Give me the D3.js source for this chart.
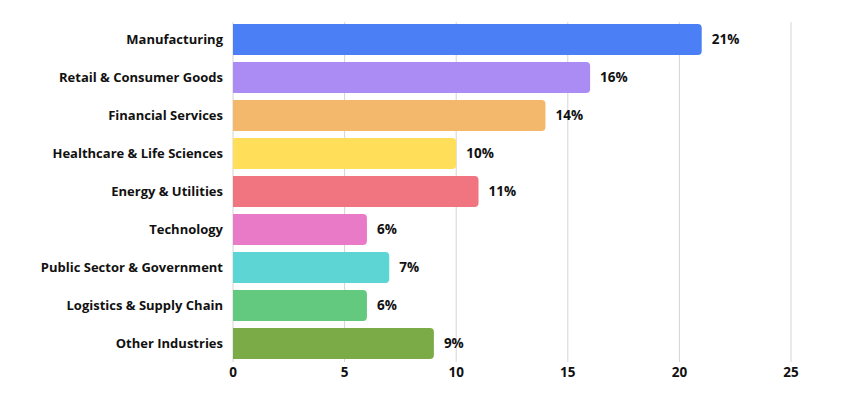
<!DOCTYPE html>
<html><head><meta charset="utf-8">
<script src="https://cdn.jsdelivr.net/npm/d3@7"></script>
<style>body{margin:0;background:#fff}svg{display:block}</style>
</head><body>
<svg id="c" width="850" height="400"></svg>
<script>
const categories = ["Manufacturing","Retail & Consumer Goods","Financial Services","Healthcare & Life Sciences","Energy & Utilities","Technology","Public Sector & Government","Logistics & Supply Chain","Other Industries"];
const values = [21,16,14,10,11,6,7,6,9];
const colors = ["#4a7ff5","#ab8cf5","#f3b86b","#ffde59","#f07580","#e87ac8","#5dd5d5","#63c97f","#7bab47"];
const ticks = [0,5,10,15,20,25];

const svg = d3.select("#c");
const font = "'Open Sans', Lato, sans-serif";
const x = d3.scaleLinear().domain([0,25]).range([233,791]);
const y = d3.scaleBand().domain(categories).range([20.5,362.5]).paddingInner(0.18).paddingOuter(0.09);

svg.append("g").selectAll("line").data(ticks).join("line")
  .attr("x1",d=>x(d)).attr("x2",d=>x(d)).attr("y1",22).attr("y2",362)
  .attr("stroke","#d4d4d4").attr("stroke-width",1);

const r = 4;
svg.append("g").selectAll("path").data(categories).join("path")
  .attr("fill",(d,i)=>colors[i])
  .attr("d",(d,i)=>{
    const x0=x(0), x1=x(values[i]), y0=y(d), h=y.bandwidth();
    return `M${x0},${y0}H${x1-r}Q${x1},${y0} ${x1},${y0+r}V${y0+h-r}Q${x1},${y0+h} ${x1-r},${y0+h}H${x0}Z`;
  });

svg.append("g").selectAll("text").data(categories).join("text")
  .attr("x",223).attr("y",d=>y(d)+y.bandwidth()/2).attr("dy","0.35em")
  .attr("text-anchor","end").attr("font-family",font).attr("font-weight",700)
  .attr("font-size",13).attr("fill","#111").text(d=>d);

svg.append("g").selectAll("text").data(categories).join("text")
  .attr("x",(d,i)=>x(values[i])+10).attr("y",d=>y(d)+y.bandwidth()/2).attr("dy","0.35em")
  .attr("font-family",font).attr("font-weight",700)
  .attr("font-size",13.5).attr("fill","#111").text((d,i)=>values[i]+"%");

svg.append("g").selectAll("text").data(ticks).join("text")
  .attr("x",d=>x(d)).attr("y",372).attr("dy","0.35em").attr("text-anchor","middle")
  .attr("font-family",font).attr("font-weight",700)
  .attr("font-size",13.5).attr("fill","#111").text(d=>d);
</script>
</body></html>
